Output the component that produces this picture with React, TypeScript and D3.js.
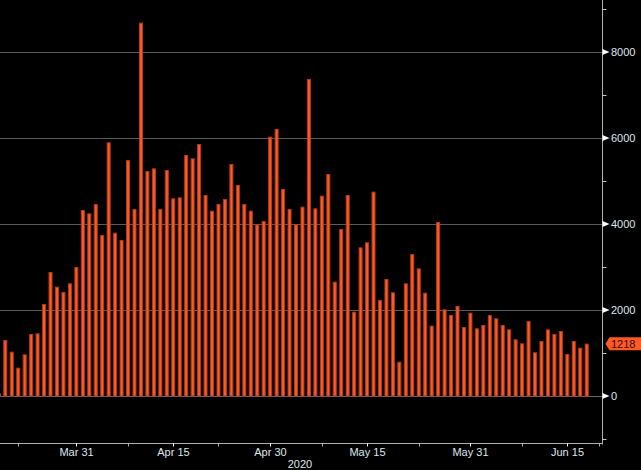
import React from "react";
import * as d3 from "d3";

const START_DATE = Date.UTC(2020, 2, 19); // Mar 19, 2020
const values: number[] = [
  60, 1302, 1031, 659, 969, 1442, 1457, 2140, 2884, 2543, 2419, 2620, 3000,
  4326, 4248, 4465, 3744, 5899, 3798, 3628, 5488, 4349, 8682, 5233, 5295,
  4349, 5256, 4597, 4620, 5605, 5527, 5860, 4674, 4310, 4465, 4581, 5395,
  4907, 4465, 4310, 3992, 4070, 6031, 6209, 4814, 4349, 3992, 4403, 7372,
  4365, 4659, 5163, 2659, 3884, 4674, 1961, 3457, 3574, 4752, 2233, 2721,
  2411, 798, 2620, 3300, 2969, 2403, 1636, 4047, 2016, 1884, 2093, 1605,
  1938, 1574, 1651, 1884, 1806, 1651, 1550, 1318, 1225, 1744, 1016, 1279,
  1550, 1442, 1512, 977, 1279, 1124, 1218,
];
const DAY = 86400000;
const dates: Date[] = values.map((_, i) => new Date(START_DATE + i * DAY));

const labeledTicks: [number, number, string][] = [
  [2, 31, "Mar 31"],
  [3, 15, "Apr 15"],
  [3, 30, "Apr 30"],
  [4, 15, "May 15"],
  [4, 31, "May 31"],
  [5, 15, "Jun 15"],
];
const minorTicks: [number, number][] = [
  [2, 22],
  [3, 8],
  [3, 22],
  [4, 8],
  [4, 23],
  [5, 8],
];
const yMajorTicks = [0, 2000, 4000, 6000, 8000];
const yMinorTicks = [-1000, 1000, 3000, 5000, 7000, 9000];
const lastValue = 1218;
const yearLabel = "2020";

const W = 641;
const H = 470;
const AXIS_X = 602.5;
const AXIS_Y = 443.5;
const BAR_COLOR = "#ff5a26";
const BAR_EDGE = "#b23a16";
const TEXT = "#dfe6ee";
const FONT = "'Liberation Sans', Arial, sans-serif";

export default function App() {
  const x = d3
    .scaleUtc()
    .domain([new Date(Date.UTC(2020, 2, 20)), new Date(Date.UTC(2020, 5, 18))])
    .range([5.3, 586.7]);
  const y = d3.scaleLinear().domain([0, 8000]).range([396, 52]);
  const bw = 4;

  return (
    <svg
      width={W}
      height={H}
      style={{ position: "fixed", left: 0, top: 0, background: "#000", display: "block" }}
      fontFamily={FONT}
    >
      <defs>
        <clipPath id="plot">
          <rect x={0} y={0} width={AXIS_X} height={AXIS_Y} />
        </clipPath>
      </defs>
      <rect x={0} y={0} width={W} height={H} fill="#000" />
      {/* gridlines */}
      {yMajorTicks.map((t) => (
        <line
          key={"g" + t}
          x1={0}
          x2={AXIS_X}
          y1={Math.round(y(t)) + 0.5}
          y2={Math.round(y(t)) + 0.5}
          stroke={t === 0 ? "#6a6a6a" : "#5a5a5a"}
          strokeWidth={1}
        />
      ))}
      {/* bars */}
      <g clipPath="url(#plot)">
        {values.map((v, i) => {
          const cx = x(dates[i]);
          const top = y(v);
          return (
            <rect
              key={i}
              x={cx - bw / 2 + 0.5}
              y={top + 0.5}
              width={bw - 1}
              height={Math.max(0, y(0) - top - 0.5)}
              fill={BAR_COLOR}
              stroke={BAR_EDGE}
              strokeWidth={1}
            />
          );
        })}
      </g>
      {/* right axis */}
      <line x1={AXIS_X} x2={AXIS_X} y1={0} y2={AXIS_Y + 1} stroke="#b0b0b0" strokeWidth={1} />
      {yMinorTicks.map((t) => (
        <line
          key={"ym" + t}
          x1={AXIS_X}
          x2={AXIS_X + 4}
          y1={Math.round(y(t)) + 0.5}
          y2={Math.round(y(t)) + 0.5}
          stroke="#c8c8c8"
        />
      ))}
      {yMajorTicks.map((t) => {
        const yy = y(t);
        return (
          <g key={"yl" + t}>
            <path
              d={`M${AXIS_X},${yy - 3}L${AXIS_X + 7},${yy}L${AXIS_X},${yy + 3}Z`}
              fill="#ffffff"
            />
            <text x={AXIS_X + 8.5} y={yy} dy="0.36em" fontSize={11} fill={TEXT}>
              {t}
            </text>
          </g>
        );
      })}
      {/* last value tag */}
      <g>
        <path
          d={`M${AXIS_X + 3},${y(lastValue)}L${AXIS_X + 7},${y(lastValue) - 6.5}L${W},${y(lastValue) - 6.5}L${W},${y(lastValue) + 6.5}L${AXIS_X + 7},${y(lastValue) + 6.5}Z`}
          fill={BAR_COLOR}
        />
        <text x={AXIS_X + 8.5} y={y(lastValue)} dy="0.36em" fontSize={11} fill="#3a0c00">
          {lastValue}
        </text>
      </g>
      {/* bottom axis */}
      <line x1={0} x2={AXIS_X + 0.5} y1={AXIS_Y} y2={AXIS_Y} stroke="#b0b0b0" strokeWidth={1} />
      {minorTicks.map(([m, d]) => {
        const xx = Math.round(x(new Date(Date.UTC(2020, m, d)))) + 0.5;
        return <line key={"xm" + m + d} x1={xx} x2={xx} y1={AXIS_Y} y2={AXIS_Y + 3} stroke="#b0b0b0" />;
      })}
      <line x1={599.5} x2={599.5} y1={AXIS_Y} y2={AXIS_Y + 3} stroke="#b0b0b0" />
      {labeledTicks.map(([m, d, lab]) => {
        const xx = Math.round(x(new Date(Date.UTC(2020, m, d)))) + 0.5;
        return (
          <g key={lab}>
            <line x1={xx} x2={xx} y1={AXIS_Y} y2={AXIS_Y + 3} stroke="#ffffff" />
            <text x={xx} y={452} dy="0.36em" fontSize={11} textAnchor="middle" fill={TEXT}>
              {lab}
            </text>
          </g>
        );
      })}
      <text x={300} y={464} dy="0.36em" fontSize={11} textAnchor="middle" fill={TEXT}>
        {yearLabel}
      </text>
    </svg>
  );
}
